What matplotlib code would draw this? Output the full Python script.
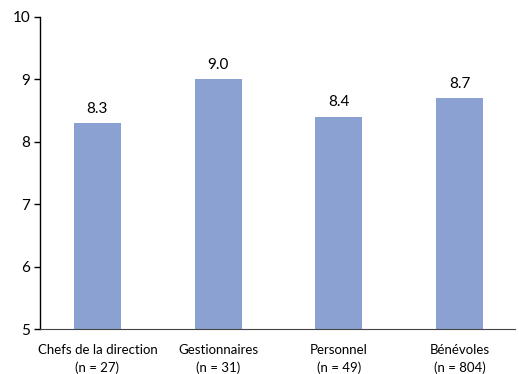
import matplotlib
matplotlib.use("Agg")
import matplotlib.pyplot as plt
import numpy as np

plt.rcParams['font.family'] = ['Lato', 'DejaVu Sans']

categories = ["Chefs de la direction\n(n = 27)", "Gestionnaires\n(n = 31)",
              "Personnel\n(n = 49)", "Bénévoles\n(n = 804)"]
values = [8.3, 9.0, 8.4, 8.7]
yticks = [5, 6, 7, 8, 9, 10]

fig = plt.figure(figsize=(5.19, 3.74), dpi=100)
ax = fig.add_axes([0.077, 0.12, 0.915, 0.835])

x = np.arange(len(categories))
ax.bar(x, [v - 5 for v in values], bottom=5, width=0.39, color="#8AA1D1")

for xi, v in zip(x, values):
    ax.text(xi, v + 0.12, f"{v:.1f}", ha="center", va="bottom", fontsize=11)

ax.set_xlim(-0.476, 3.459)
ax.set_ylim(5, 10)
ax.set_yticks(yticks)
ax.set_yticklabels([str(t) for t in yticks], fontsize=11)
ax.set_xticks(x)
ax.set_xticklabels(categories, fontsize=9.5, linespacing=1.45)
ax.tick_params(axis="x", length=0, pad=11)
ax.tick_params(axis="y", length=4, width=1, pad=3)

ax.spines["top"].set_visible(False)
ax.spines["right"].set_visible(False)
ax.spines["left"].set_linewidth(1)
ax.spines["bottom"].set_color("#444444")

fig.savefig("out.png", dpi=100)
